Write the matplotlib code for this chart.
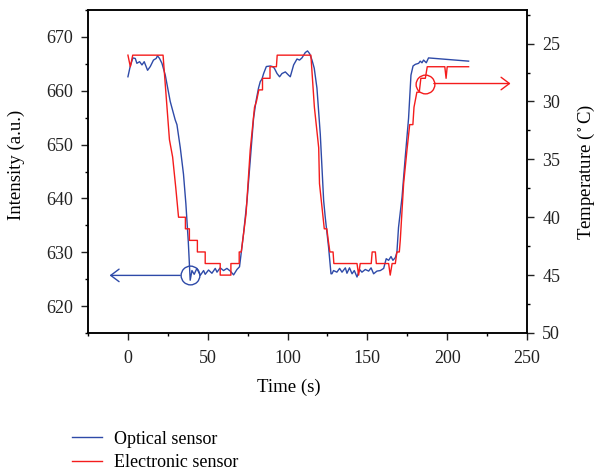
import matplotlib
matplotlib.use('Agg')
import matplotlib.pyplot as plt

plt.rcParams['font.family'] = ['Liberation Serif', 'DejaVu Serif']
plt.rcParams['mathtext.fontset'] = 'stix'

# optical sensor: intensity (a.u.) vs time (s)
t_opt = [0, 1.4, 3.1, 4.6, 5.6, 7.3, 8.8, 10.2, 12.3, 14, 16, 17.7, 18.5, 19.8,
         21.3, 23.4, 26.5, 29.6, 30.7, 32.8, 34.8, 36.3, 37.8, 39.0,
         40.1, 41.5, 43.2, 45.3, 47.4, 48.4, 50.5, 52.6, 54.7, 55.8, 57.8,
         59.9, 62.0, 64.1, 66.2, 68.3, 69.9,
         72.4, 74.6, 76.6, 78.7, 80.2, 81.8, 82.9, 84, 85, 86.7, 89.2, 90.5,
         91.7, 93.4, 95, 96.5, 98.6, 100.6, 101.7, 103.8, 105.9, 107.5, 109,
         111.1, 112.5, 113.8, 115.3, 116.7, 118.4, 120.5, 122.6, 123.6, 125.7,
         127.2, 127.8, 128.8, 130.9, 132.6, 134.1, 136.2, 137.2, 138.8, 140.4,
         141.8, 143.5, 145.1, 146.6, 148.7, 150.8, 152.3, 153.9, 156, 158.1,
         160.2, 161.8, 163.3, 164.8, 166.0, 167.5, 168.5,
         169.5, 171.7, 173.7, 175.8, 177.3, 178.6, 180, 182.1, 183.1, 184.2,
         185.2, 186.9, 188.3, 213.4]
i_opt = [662.6, 664.5, 666.1, 666.0, 665.1, 665.4, 664.8, 665.4, 663.8, 664.5,
         665.7, 666.0, 666.5, 666.0, 665.1, 662.9, 658.0, 654.6, 653.7, 649.4,
         644.5, 639.0, 632.0, 624.8,
         626.6, 625.9, 627.0, 625.7, 626.6, 625.9, 626.7, 626.1, 627.0, 626.3,
         627.1, 626.6, 627.0, 626.5, 625.8, 626.8, 627.3,
         633.4, 639.6, 647.0, 654.9, 658.0, 660.5, 661.7, 662.2, 663.2, 664.5,
         664.6, 664.5, 664.2, 663.2, 662.6, 663.2, 663.5, 662.9, 662.6, 664.8,
         665.9, 665.7, 666.1, 667.1, 667.4, 666.9, 665.7, 664.2, 660.5, 651.9,
         639.6, 636.5, 630.9, 626.0,
         626.0, 626.6, 626.3, 627.0, 626.3, 627.1, 626.1, 627.1, 626.0, 626.6,
         625.4, 626.8, 626.3, 626.8, 626.5, 627.1, 626.0, 626.5, 626.6, 627.0,
         628.8, 628.5, 629.2, 628.5, 629.0, 630.0,
         634.6, 640.2, 647.6, 654.9, 662.9, 664.6, 664.9, 665.1, 665.5, 665.2,
         665.7, 665.2, 666.1, 665.5]

# electronic sensor: temperature (deg C) vs time (s)
t_ele = [0, 1.5, 3, 22, 26, 28, 30, 31.7, 36, 36, 38.5, 38.5, 43.5, 43.5,
         48.4, 48.4, 57.8, 57.8, 64.5, 64.5, 69.7, 69.7, 71, 74, 76.6, 79.3,
         80.5, 82, 84.3, 84.3, 89, 89, 93, 93.5, 114.6, 116.8, 119.5, 120,
         123, 124.6, 125.5, 126.5, 128.5, 129, 143.5, 144.5, 145.5, 152.4, 153,
         155, 155.6, 163.3, 164.3, 165.5, 167.5, 168.5, 170, 170.6, 172.7,
         174.8, 176.5, 178.5, 179.2, 181, 182.5, 183.5, 186.3, 187.5, 198.5,
         199.3, 200, 213.4]
temp_ele = [26, 27, 26, 26, 33.3, 34.8, 37.5, 40, 40, 41, 41, 42, 42, 43,
            43, 44, 44, 45, 45, 44, 44, 43, 43, 39.7, 34.2, 30.5,
            30, 29, 29, 28, 28, 27, 27, 26, 26, 30.5, 34, 37.1,
            41, 41, 42, 43, 43, 44, 44, 45, 44, 44, 43,
            43, 44, 44, 45, 44, 44, 43, 43, 42, 37.1,
            34.2, 32, 32, 30.5, 29.2, 29.2, 28, 28, 27, 27,
            28, 27, 27]

blue = '#2e4aa8'
red = '#f41c1c'

fig = plt.figure(figsize=(5.98, 4.72), dpi=100)
ax = fig.add_axes([0.1472, 0.2945, 0.7341, 0.6843])
ax2 = ax.twinx()

l1, = ax.plot(t_opt, i_opt, color=blue, lw=1.0, label='Optical sensor')
l2, = ax2.plot(t_ele, temp_ele, color=red, lw=1.0, label='Electronic sensor')

ax.set_xlim(-25, 250)
ax.set_ylim(615, 675)
ax2.set_ylim(50, 22.1)

ax.set_xticks([0, 50, 100, 150, 200, 250])
ax.set_xticks(range(-25, 251, 25), minor=True)
ax.set_yticks([620, 630, 640, 650, 660, 670])
ax.set_yticks(range(615, 676, 5), minor=True)
ax2.set_yticks([25, 30, 35, 40, 45, 50])
ax2.set_yticks([22.5 + 2.5 * k for k in range(11)], minor=True)

for a in (ax, ax2):
    a.tick_params(which='major', length=5, width=1.0, labelsize=13, colors='#222222')
    a.tick_params(which='minor', length=2.5, width=1.0)
    for s in a.spines.values():
        s.set_linewidth(1.1)
ax.tick_params(axis='y', pad=6)
ax.tick_params(axis='x', pad=7)
ax2.tick_params(axis='y', pad=6)

ax.set_xlabel('Time (s)', fontsize=13.5)
ax.set_ylabel('Intensity (a.u.)', fontsize=13.5)
ax2.set_ylabel(r'Temperature ($^\circ$C)', fontsize=13.5)
ax.xaxis.set_label_coords(0.458, -0.142)
ax.yaxis.set_label_coords(-0.143, 0.52)
ax2.yaxis.set_label_coords(1.112, 0.5)

# circles marking which axis each curve belongs to
ax.plot([38.6], [625.7], marker='o', ms=13.5, mfc='none', mec=blue, mew=1.0)
ax.annotate('', xy=(-11.5, 625.7), xytext=(38.6, 625.7),
            arrowprops=dict(arrowstyle='->,head_length=0.6,head_width=0.45',
                            color=blue, lw=1.0, shrinkA=6.7, shrinkB=0))
ax2.plot([185.8], [28.45], marker='o', ms=13.5, mfc='none', mec=red, mew=1.0)
ax2.annotate('', xy=(239.7, 28.45), xytext=(185.8, 28.45),
             arrowprops=dict(arrowstyle='->,head_length=0.6,head_width=0.45',
                             color=red, lw=1.0, shrinkA=6.7, shrinkB=0))

fig.legend(handles=[l1, l2], loc='upper left', bbox_to_anchor=(0.105, 0.107),
           frameon=False, fontsize=13, handlelength=1.67, handletextpad=0.67,
           labelspacing=0.38, borderpad=0)

fig.savefig('out.png', dpi=100)
